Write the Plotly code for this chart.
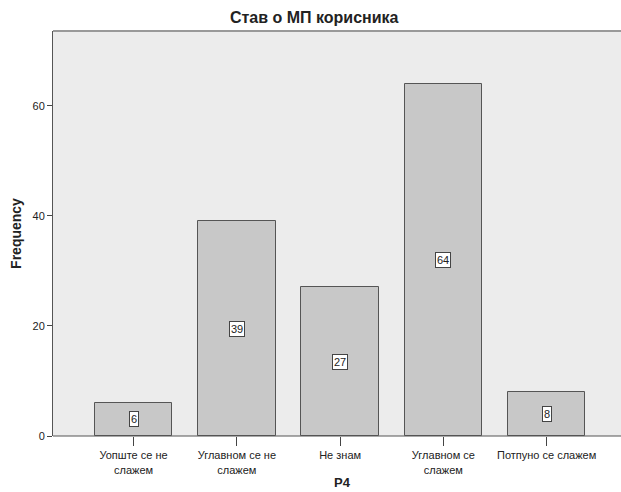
import plotly.graph_objects as go

categories = ["Уопште се не<br>слажем", "Углавном се не<br>слажем", "Не знам",
              "Углавном се<br>слажем", "Потпуно се слажем"]
frequencies = [6, 39, 27, 64, 8]
y_ticks = [0, 20, 40, 60]

xpos = list(range(len(categories)))
FONT = "Liberation Sans, Arial, sans-serif"

fig = go.Figure()
fig.add_trace(go.Bar(
    x=xpos, y=frequencies, width=0.75,
    marker=dict(color="#c8c8c8", line=dict(color="#555555", width=1)),
    hoverinfo="skip",
))

for xi, v in zip(xpos, frequencies):
    fig.add_annotation(
        x=xi, y=v / 2, text=str(v), showarrow=False,
        font=dict(family=FONT, size=11, color="#222222"),
        bgcolor="white", bordercolor="#444444", borderwidth=1, borderpad=1,
    )

fig.add_annotation(
    x=0.510, y=-0.114, xref="paper", yref="paper", text="<b>P4</b>",
    showarrow=False, font=dict(family=FONT, size=13, color="#222222"),
    xanchor="center", yanchor="middle",
)

fig.update_layout(
    width=621, height=492,
    margin=dict(l=53, r=0, t=31, b=56),
    paper_bgcolor="white", plot_bgcolor="#ececec",
    showlegend=False,
    title=dict(text="<b>Став о МП корисника</b>", x=0.506, xanchor="center",
               y=0.964, yanchor="middle",
               font=dict(family=FONT, size=16, color="#222222")),
    bargap=0,
)

fig.update_xaxes(
    range=[-0.78, 4.72], tickvals=xpos, ticktext=categories,
    showgrid=False, zeroline=False, showline=False,
    ticks="outside", ticklen=9, tickcolor="#444444", tickwidth=1,
    tickfont=dict(family=FONT, size=11, color="#222222"),
)
fig.update_yaxes(
    range=[0, 73.6], tickvals=y_ticks,
    showgrid=False, zeroline=False, showline=True, linecolor="#555555", linewidth=1,
    ticks="outside", ticklen=5, tickcolor="#444444",
    tickfont=dict(family=FONT, size=11, color="#222222"),
    title=dict(text="<b>Frequency</b>", standoff=7,
               font=dict(family=FONT, size=14, color="#222222")),
)

fig.add_shape(type="line", xref="paper", yref="paper", x0=0, x1=1, y0=0, y1=0,
              line=dict(color="#555555", width=1))
fig.add_shape(type="line", xref="paper", yref="paper", x0=0, x1=1, y0=1, y1=1,
              line=dict(color="#999999", width=2))

fig.write_html("out.html", config={"displayModeBar": False},
               post_script="document.body.style.margin='0';")
